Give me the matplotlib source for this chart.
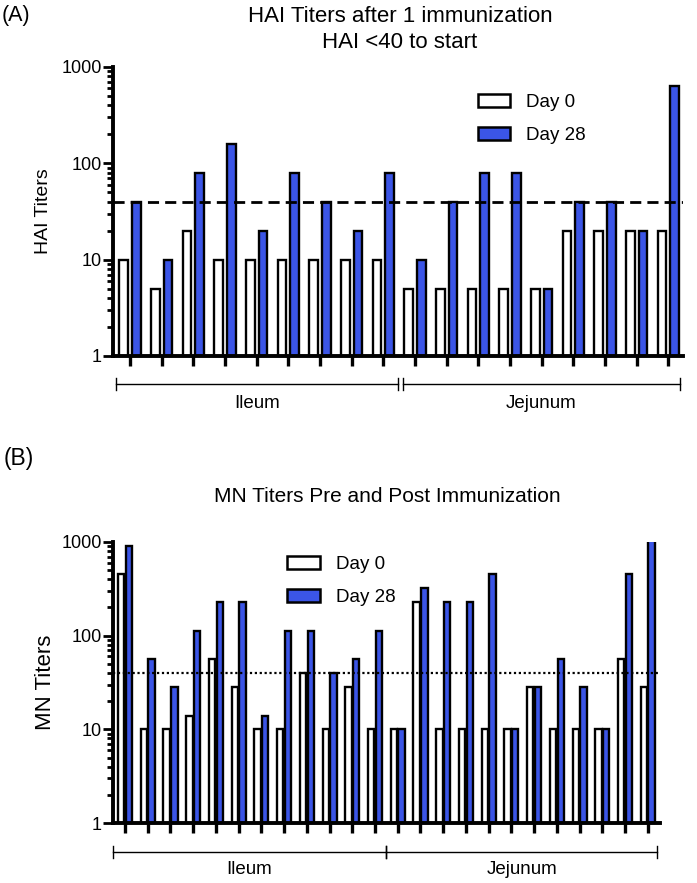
# HAI and MN titers, day 0 vs day 28, ileum and jejunum groups

import numpy as np
import matplotlib
matplotlib.use('Agg')
import matplotlib.pyplot as plt
from matplotlib.patches import Patch
from matplotlib.ticker import LogLocator, NullFormatter, FixedLocator

plt.rcParams['font.family'] = ['Liberation Sans', 'DejaVu Sans']

# panel A: HAI titers, 9 ileum + 9 jejunum
hai_day0 = [10, 5, 20, 10, 10, 10, 10, 10, 10,
            5, 5, 5, 5, 5, 20, 20, 20, 20]
hai_day28 = [40, 10, 80, 160, 20, 80, 40, 20, 80,
             10, 40, 80, 80, 5, 40, 40, 20, 640]

# panel B: MN titers, 12 ileum + 12 jejunum
mn_day0 = [450, 10, 10, 14, 56, 28, 10, 10, 40, 10, 28, 10,
           10, 226, 10, 10, 10, 10, 28, 10, 10, 10, 56, 28]
mn_day28 = [900, 56, 28, 113, 226, 226, 14, 113, 113, 40, 56, 113,
            10, 320, 226, 226, 450, 10, 28, 56, 28, 10, 450, 1810]

groups = ['Ileum', 'Jejunum']
legend_labels = ['Day 0', 'Day 28']
blue = '#3b55e6'

W, H = 697, 883
fig = plt.figure(figsize=(W / 100, H / 100), dpi=100)


def px_axes(left, top, right, bottom):
    return fig.add_axes([left / W, 1 - bottom / H, (right - left) / W, (bottom - top) / H])


def titer_panel(ax, d0, d28, off, width, xlim, threshold_style, bracket, ylabel, ylabel_size, labelpad):
    x = np.arange(len(d0))
    ax.bar(x - off, d0, width, color='white', edgecolor='black', linewidth=1.7,
           label=legend_labels[0], zorder=2)
    ax.bar(x + off, d28, width, color=blue, edgecolor='black', linewidth=1.7,
           label=legend_labels[1], zorder=2)
    ax.set_yscale('log')
    ax.set_ylim(1, 1000)
    ax.set_xlim(*xlim)
    ax.axhline(40, color='black', zorder=3, **threshold_style)

    ax.spines['top'].set_visible(False)
    ax.spines['right'].set_visible(False)
    ax.spines['left'].set_linewidth(2.8)
    ax.spines['bottom'].set_linewidth(2.8)
    ax.spines['left'].set_zorder(4)
    ax.spines['bottom'].set_zorder(4)

    ax.xaxis.set_major_locator(FixedLocator(x))
    ax.set_xticklabels([])
    ax.tick_params(axis='x', which='major', direction='out', length=7.5, width=2.4)
    ax.yaxis.set_minor_locator(LogLocator(base=10, subs=np.arange(2, 10), numticks=10))
    ax.yaxis.set_minor_formatter(NullFormatter())
    ax.set_yticks([1, 10, 100, 1000])
    ax.set_yticklabels(['1', '10', '100', '1000'])
    ax.tick_params(axis='y', which='major', direction='out', length=7, width=2, labelsize=13, pad=1)
    ax.tick_params(axis='y', which='minor', direction='out', length=4, width=2)
    ax.set_ylabel(ylabel, fontsize=ylabel_size, labelpad=labelpad)

    # group brackets under the axis
    ybr, ylab, spans = bracket
    tr = ax.get_xaxis_transform()
    for name, (a, b) in zip(groups, spans):
        ax.plot([a, b], [ybr, ybr], color='black', lw=1.0, transform=tr, clip_on=False)
        for e in (a, b):
            ax.plot([e, e], [ybr - 0.02, ybr + 0.02], color='black', lw=1.0,
                    transform=tr, clip_on=False)
        ax.text((a + b) / 2, ylab, name, transform=tr, ha='center', va='center', fontsize=13.5)


def add_legend(ax, anchor):
    ax.legend(handles=[Patch(facecolor='white', edgecolor='black', linewidth=1.8, label=legend_labels[0]),
                       Patch(facecolor=blue, edgecolor='black', linewidth=1.8, label=legend_labels[1])],
              loc='upper left', bbox_to_anchor=anchor, frameon=False, fontsize=13.5,
              handlelength=1.75, handleheight=0.65, labelspacing=0.85, handletextpad=0.85)


# ---- panel A
axA = px_axes(113, 67, 683, 356)
titer_panel(axA, hai_day0, hai_day28, 0.2, 0.27, (-0.54, 17.46),
            dict(linestyle=(0, (4, 2.2)), linewidth=2.0),
            (-0.097, -0.163, [(-0.43, 8.46), (8.62, 17.36)]), 'HAI Titers', 14, 7)
add_legend(axA, (0.61, 0.965))
fig.text(400 / W, 1 - 17 / H, 'HAI Titers after 1 immunization', ha='center', va='center', fontsize=16)
fig.text(400 / W, 1 - 43 / H, 'HAI <40 to start', ha='center', va='center', fontsize=16)
fig.text(2 / W, 1 - 15 / H, '(A)', ha='left', va='center', fontsize=15.5)

# ---- panel B
axB = px_axes(113, 542, 660, 823)
titer_panel(axB, mn_day0, mn_day28, 0.17, 0.28, (-0.53, 23.54),
            dict(linestyle=(0, (1, 1.2)), linewidth=1.6),
            (-0.103, -0.167, [(-0.55, 11.49), (11.49, 23.41)]), 'MN Titers', 16, 4)
add_legend(axB, (0.287, 1.01))
fig.text(387 / W, 1 - 497 / H, 'MN Titers Pre and Post Immunization', ha='center', va='center', fontsize=15)
fig.text(4 / W, 1 - 459 / H, '(B)', ha='left', va='center', fontsize=16.5)

fig.savefig('out.png', dpi=100)
